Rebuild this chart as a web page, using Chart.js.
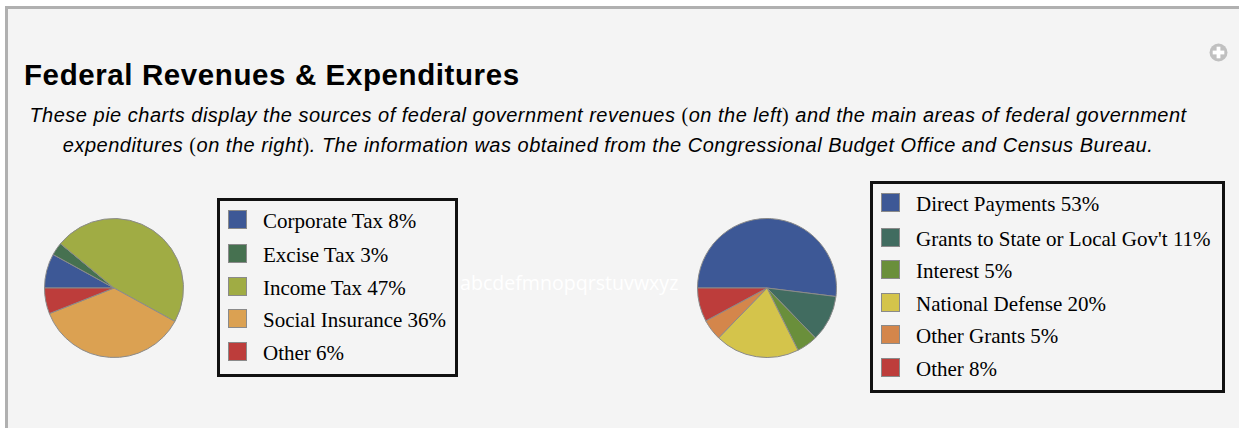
<!DOCTYPE html>
<html>
<head>
<meta charset="utf-8">
<script src="https://cdn.jsdelivr.net/npm/chart.js@4.4.1/dist/chart.umd.min.js"></script>
<style>
  html, body { margin: 0; padding: 0; background: #ffffff; }
  body { width: 1239px; height: 428px; overflow: hidden; position: relative; }
  #panel {
    position: absolute; left: 5px; top: 6px; width: 1260px; height: 440px;
    background: #f4f4f4; border-top: 3px solid #b0b0b0; border-left: 3px solid #b0b0b0;
    box-sizing: border-box;
  }
  #title {
    position: absolute; left: 24px; top: 58px; margin: 0;
    font-family: "Liberation Sans", Arial, sans-serif; font-weight: bold; font-size: 29.5px;
    letter-spacing: 0.6px; color: #000; white-space: nowrap; line-height: 34px;
  }
  #subtitle {
    position: absolute; left: 14px; top: 100px; width: 1188px; margin: 0;
    font-family: "Liberation Sans", Arial, sans-serif; font-style: italic; font-size: 20px;
    letter-spacing: 0.5px; line-height: 30px; text-align: center; color: #000; white-space: nowrap;
  }
  #subtitle .p { font-family: "Liberation Serif", "Times New Roman", serif; font-style: normal; }
  .pie { position: absolute; }
  .legend {
    position: absolute; border: 3px solid #111; box-sizing: border-box;
    font-family: "Liberation Serif", "Times New Roman", serif; font-size: 21px; color: #000;
  }
  .legend .row { height: 32.5px; display: flex; align-items: center; white-space: nowrap; }
  .legend .row:first-child { margin-bottom: 2px; }
  .legend .sw { width: 19px; height: 19px; box-sizing: border-box; border: 1px solid #8a8a8a; margin-right: 16px; flex: none; }
  .legend .lbl { position: relative; top: 2px; }
  #probe {
    position: absolute; left: 460px; top: 270px; font-family: "Open Sans", sans-serif;
    font-size: 19.6px; color: #ffffff; white-space: nowrap; line-height: 26px;
  }
  #more { position: absolute; left: 1209px; top: 43px; width: 19px; height: 19px; }
</style>
</head>
<body>
<div id="panel"></div>
<h1 id="title">Federal Revenues &amp; Expenditures</h1>
<p id="subtitle">These pie charts display the sources of federal government revenues <span class="p">(</span>on the left<span class="p">)</span> and the main areas of federal government<br>expenditures <span class="p">(</span>on the right<span class="p">)</span>. The information was obtained from the Congressional Budget Office and Census Bureau.</p>

<canvas id="revPie" class="pie" width="140" height="140" style="left:44px; top:218px;"></canvas>
<div id="revLegend" class="legend" style="left:217px; top:198px; width:241px; height:179px; padding:2px 0 0 8px;"></div>

<div id="probe">abcdefmnopqrstuvwxyz</div>

<canvas id="expPie" class="pie" width="140" height="140" style="left:697px; top:218px;"></canvas>
<div id="expLegend" class="legend" style="left:870px; top:181px; width:355px; height:212px; padding:2.5px 0 0 8px;"></div>

<svg id="more" viewBox="0 0 18 18">
  <circle cx="9" cy="9" r="8.5" fill="#c0c0c0"/>
  <rect x="7.2" y="3.5" width="3.6" height="11" fill="#ffffff"/>
  <rect x="3.5" y="7.2" width="11" height="3.6" fill="#ffffff"/>
</svg>

<script>
// Revenue sources (percent of federal revenues)
const revenueLabels = ["Corporate Tax", "Excise Tax", "Income Tax", "Social Insurance", "Other"];
const revenueValues = [8, 3, 47, 36, 6];
const revenueColors = ["#3d5896", "#467150", "#a0ac44", "#dba152", "#bd3d3b"];

// Expenditure areas (percent of federal expenditures)
const expenseLabels = ["Direct Payments", "Grants to State or Local Gov't", "Interest", "National Defense", "Other Grants", "Other"];
const expenseValues = [53, 11, 5, 20, 5, 8];
const expenseColors = ["#3d5896", "#416c60", "#6a8f3b", "#d4c44b", "#d4864b", "#bd3d3b"];

function makePie(id, labels, values, colors) {
  return new Chart(document.getElementById(id), {
    type: "pie",
    data: {
      labels: labels,
      datasets: [{
        data: values,
        backgroundColor: colors,
        borderColor: "#8a8a8a",
        borderWidth: 1
      }]
    },
    options: {
      responsive: false,
      animation: false,
      rotation: -90,
      layout: { padding: 0 },
      plugins: { legend: { display: false }, tooltip: { enabled: false } }
    }
  });
}

function makeLegend(id, labels, values, colors) {
  const box = document.getElementById(id);
  labels.forEach((name, i) => {
    const row = document.createElement("div");
    row.className = "row";
    const sw = document.createElement("span");
    sw.className = "sw";
    sw.style.background = colors[i];
    const txt = document.createElement("span");
    txt.className = "lbl";
    txt.textContent = name + " " + values[i] + "%";
    row.appendChild(sw);
    row.appendChild(txt);
    box.appendChild(row);
  });
}

makePie("revPie", revenueLabels, revenueValues, revenueColors);
makePie("expPie", expenseLabels, expenseValues, expenseColors);
makeLegend("revLegend", revenueLabels, revenueValues, revenueColors);
makeLegend("expLegend", expenseLabels, expenseValues, expenseColors);
</script>
</body>
</html>
